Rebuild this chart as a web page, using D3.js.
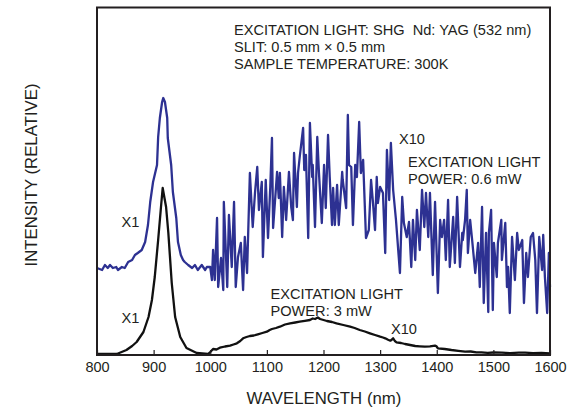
<!DOCTYPE html>
<html>
<head>
<meta charset="utf-8">
<script src="https://cdn.jsdelivr.net/npm/d3@7/dist/d3.min.js"></script>
<style>
  html, body { margin: 0; padding: 0; background: #fff; }
  svg { display: block; }
  text { font-family: "Liberation Sans", Arial, Helvetica, sans-serif; fill: #231f20; }
</style>
</head>
<body>
<svg id="chart" width="567" height="407"></svg>
<script>
// Photoluminescence spectra, wavelength (nm) vs. relative intensity (arb. units)
const xTicks = [800, 900, 1000, 1100, 1200, 1300, 1400, 1500, 1600];

// 0.6 mW excitation (X1 below 1000 nm, X10 above)
const lowPowerSpectrum = [
  [800,87],[809,85],[814,90],[819,87],[823,90],[828,87],[834,88],[837,85],[844,88],[849,87],
  [855,93],[862,95],[867,100],[872,102],[879,105],[885,113],[890,130],[894,153],[899,173],[906,190],
  [908,218],[911,237],[915,253],[917,257],[920,253],[924,237],[925,217],[931,190],[934,163],[940,137],
  [943,113],[948,100],[952,95],[955,93],[961,90],[968,87],[973,90],[978,85],[985,90],[991,85],
  [994,88],[1000,88],[1003,75],[1005,105],[1008,75],[1012,137],[1014,68],[1019,97],[1023,65],[1024,153],
  [1030,68],[1033,140],[1038,88],[1042,153],[1045,68],[1049,98],[1054,112],[1058,65],[1061,118],[1065,82],
  [1070,182],[1075,128],[1079,162],[1083,188],[1086,145],[1091,173],[1093,98],[1098,175],[1102,117],[1106,168],
  [1109,217],[1111,127],[1118,183],[1121,157],[1123,182],[1127,118],[1130,168],[1134,135],[1139,183],[1143,148],
  [1146,135],[1148,202],[1153,148],[1155,182],[1158,198],[1164,227],[1166,185],[1169,200],[1173,117],[1176,232],
  [1180,178],[1181,190],[1185,128],[1189,218],[1192,182],[1197,132],[1201,190],[1204,147],[1208,220],[1211,178],
  [1215,130],[1217,167],[1220,130],[1224,170],[1227,130],[1233,183],[1234,175],[1240,147],[1243,240],[1245,190],
  [1249,188],[1252,130],[1256,190],[1259,178],[1263,233],[1266,182],[1270,195],[1275,117],[1280,125],[1284,175],
  [1287,155],[1291,125],[1294,178],[1296,152],[1300,168],[1305,162],[1309,102],[1312,205],[1316,155],[1319,212],
  [1323,165],[1328,135],[1335,82],[1339,158],[1342,132],[1347,118],[1351,133],[1355,88],[1358,135],[1362,95],
  [1365,145],[1370,105],[1374,165],[1378,128],[1381,162],[1385,118],[1388,162],[1393,80],[1397,153],[1402,62],
  [1406,135],[1409,118],[1413,135],[1416,95],[1420,155],[1423,88],[1429,138],[1432,92],[1436,158],[1441,88],
  [1445,122],[1446,115],[1450,135],[1453,165],[1455,102],[1459,135],[1462,118],[1468,82],[1473,112],[1476,68],
  [1480,148],[1483,52],[1487,122],[1491,43],[1492,122],[1496,145],[1499,45],[1501,112],[1506,78],[1508,112],
  [1514,135],[1515,95],[1521,132],[1524,68],[1526,88],[1529,42],[1533,118],[1538,75],[1542,122],[1545,105],
  [1551,115],[1554,52],[1558,102],[1561,78],[1566,118],[1570,122],[1574,95],[1577,42],[1581,118],[1586,85],
  [1588,120],[1591,78],[1595,42],[1598,102],[1600,68]
];

// 3 mW excitation (X1 below 1000 nm, X10 above)
const highPowerSpectrum = [
  [800,1],[835,1],[852,5],[862,9],[870,13],[882,23],[891,38],[897,55],[902,78],[908,115],
  [913,148],[916,167],[922,148],[926,122],[932,72],[938,38],[947,18],[958,7],[976,2],[996,1],
  [1000,3],[1005,6],[1011,5.5],[1017,7.3],[1026,8.5],[1035,9.3],[1041,10.5],[1047,11.7],[1053,14],[1058,16.7],
  [1064,18],[1070,19],[1077,19.5],[1084,20.7],[1092,22],[1100,23.3],[1105,25],[1109,26],[1116,27],[1123,28.3],
  [1132,30.5],[1141,31.7],[1150,32.5],[1158,33.3],[1167,34.2],[1176,35],[1181,36.5],[1185,36],[1190,37.5],[1194,36],
  [1200,35],[1206,34],[1215,33],[1223,31.7],[1235,30],[1247,28.3],[1255,27],[1264,25],[1273,23.5],[1282,21.7],
  [1291,20],[1300,18.3],[1305,17.5],[1309,16.7],[1314,15.2],[1318,14.3],[1321,15.5],[1323,16.7],[1326,14],[1329,12.7],
  [1337,12],[1344,11],[1353,10],[1362,9],[1370,8.7],[1379,8.3],[1388,8.6],[1397,9.4],[1399,9],[1402,6.7],
  [1414,6],[1426,5],[1438,4.2],[1450,3.3],[1460,3.5],[1470,2.6],[1479,2.7],[1490,2.2],[1500,2.5],[1515,2.3],
  [1530,1.8],[1545,2.3],[1556,2.3],[1570,1.8],[1585,2],[1600,1.7]
];

const infoLines = [
  "EXCITATION LIGHT: SHG\u00a0\u00a0Nd: YAG (532 nm)",
  "SLIT: 0.5 mm \u00d7 0.5 mm",
  "SAMPLE TEMPERATURE: 300K"
];

const svg = d3.select("#chart");
const plot = { left: 97, right: 550, top: 7.5, bottom: 355 };

const x = d3.scaleLinear().domain([800, 1600]).range([plot.left, plot.right]);
const y = d3.scaleLinear().domain([0, 347.5]).range([plot.bottom, plot.top]);

const line = d3.line().x(d => x(d[0])).y(d => y(d[1]));

// spectra
svg.append("path")
  .datum(lowPowerSpectrum)
  .attr("d", line)
  .attr("fill", "none")
  .attr("stroke", "#2d3192")
  .attr("stroke-width", 2.3)
  .attr("stroke-linejoin", "round");

svg.append("path")
  .datum(highPowerSpectrum)
  .attr("d", line)
  .attr("fill", "none")
  .attr("stroke", "#111")
  .attr("stroke-width", 2.3)
  .attr("stroke-linejoin", "round");

// x axis: inward ticks, labels below
const xAxis = d3.axisBottom(x)
  .tickValues(xTicks)
  .tickSizeInner(-5)
  .tickSizeOuter(0)
  .tickPadding(6.5)
  .tickFormat(d3.format("d"));

const gx = svg.append("g")
  .attr("transform", `translate(0,${plot.bottom})`)
  .call(xAxis);
gx.select(".domain").remove();
gx.selectAll(".tick line").attr("stroke", "#231f20").attr("stroke-width", 1.2);
gx.selectAll(".tick text")
  .attr("font-size", 14.5)
  .attr("font-family", "'Liberation Sans', Arial, Helvetica, sans-serif")
  .attr("fill", "#231f20");

// frame
svg.append("rect")
  .attr("x", plot.left)
  .attr("y", plot.top)
  .attr("width", plot.right - plot.left)
  .attr("height", plot.bottom - plot.top)
  .attr("fill", "none")
  .attr("stroke", "#231f20")
  .attr("stroke-width", 2);

// axis titles
svg.append("text")
  .attr("x", 324)
  .attr("y", 403.5)
  .attr("text-anchor", "middle")
  .attr("font-size", 16.8)
  .text("WAVELENGTH (nm)");

svg.append("text")
  .attr("transform", "translate(36.5,175) rotate(-90)")
  .attr("text-anchor", "middle")
  .attr("font-size", 16.8)
  .text("INTENSITY (RELATIVE)");

// measurement conditions
svg.append("g").selectAll("text")
  .data(infoLines)
  .join("text")
  .attr("x", 234)
  .attr("y", (d, i) => 34.5 + i * 17)
  .attr("font-size", 14.6)
  .text(d => d);

// annotations
const notes = [
  { t: "X10", x: 399, y: 144 },
  { t: "EXCITATION LIGHT", x: 408, y: 167 },
  { t: "POWER: 0.6 mW", x: 408, y: 184 },
  { t: "X1", x: 121.5, y: 227 },
  { t: "X1", x: 121.5, y: 323 },
  { t: "EXCITATION LIGHT", x: 270.5, y: 298.5 },
  { t: "POWER: 3 mW", x: 270.5, y: 315.5 },
  { t: "X10", x: 391, y: 333.5 }
];
svg.append("g").selectAll("text")
  .data(notes)
  .join("text")
  .attr("x", d => d.x)
  .attr("y", d => d.y)
  .attr("font-size", 14.6)
  .text(d => d.t);
</script>
</body>
</html>
